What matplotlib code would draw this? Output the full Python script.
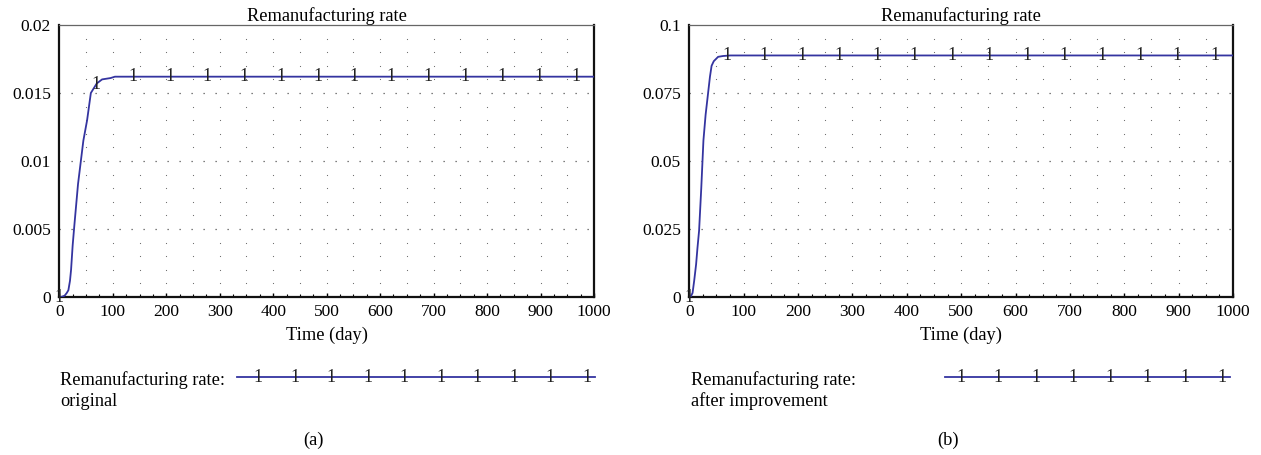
import numpy as np
import matplotlib
matplotlib.use("Agg")
import matplotlib.pyplot as plt

# ---- data ----
t_orig = [0, 5, 10, 14, 17, 20, 22, 25, 28, 35, 45, 52, 59, 70, 80, 88, 96, 104, 1000]
v_orig = [0, 0.00002, 0.0001, 0.0003, 0.0005, 0.0012, 0.002, 0.0038, 0.0052, 0.0083,
          0.0115, 0.013, 0.015, 0.0157, 0.0160, 0.01605, 0.0161, 0.0162, 0.0162]
t_impr = [0, 3, 6, 9, 12.5, 15, 18, 22, 26, 30, 34, 38, 41, 45, 53, 62, 75, 1000]
v_impr = [0, 0.0003, 0.0015, 0.006, 0.012, 0.018, 0.0244, 0.04, 0.0576, 0.067, 0.074,
          0.081, 0.085, 0.0867, 0.0883, 0.0886, 0.0888, 0.0888]
label_times = [0, 69, 138, 207, 276, 345, 414, 483, 552, 621, 690, 759, 828, 897, 966]
yticks_a = [0, 0.005, 0.01, 0.015, 0.02]
yticklabels_a = ["0", "0.005", "0.01", "0.015", "0.02"]
yticks_b = [0, 0.025, 0.05, 0.075, 0.1]
yticklabels_b = ["0", "0.025", "0.05", "0.075", "0.1"]
xticks = [0, 100, 200, 300, 400, 500, 600, 700, 800, 900, 1000]
title = "Remanufacturing rate"
xlabel = "Time (day)"
legend_a = ["Remanufacturing rate:", "original"]
legend_b = ["Remanufacturing rate:", "after improvement"]

plt.rcParams['font.family'] = ['Liberation Serif', 'DejaVu Serif']
W, H = 1261, 455
fig = plt.figure(figsize=(W / 100, H / 100), dpi=100)
LINE = '#3434a0'
FS = 12.5
FT = 13.2


def px(x0, y0, x1, y1):
    return [x0 / W, 1 - y1 / H, (x1 - x0) / W, (y1 - y0) / H]


def make_panel(rect, t, v, yticks, ylabs, ymax, n_leg, leg_text, leg_tx, leg_x0, leg_x1,
               leg_first, leg_last, tag, tag_x):
    ax = fig.add_axes(px(*rect))
    ax.set_xlim(0, 1000)
    ax.set_ylim(0, ymax)
    # dotted grid
    xs = np.arange(50, 1000, 50)
    step = ymax / 20
    ys = np.arange(1, 20) * step
    ys = [y for i, y in enumerate(ys, start=1) if i % 5 != 0]
    gx, gy = np.meshgrid(xs, ys)
    ax.scatter(gx.ravel(), gy.ravel(), s=0.7, color='#666666', linewidths=0, zorder=1)
    for y in yticks[1:-1]:
        ax.axhline(y, color='#555555', lw=0.9, ls=(0, (1, 8.6)), zorder=1)
    ax.plot(t, v, color=LINE, lw=1.3, zorder=3)
    for lt in label_times:
        ax.text(lt, np.interp(lt, t, v), "1", ha='center', va='center',
                fontsize=13, color='#222222', zorder=4)
    ax.set_xticks(xticks)
    ax.set_xticklabels([str(x) for x in xticks], fontsize=FS)
    ax.set_yticks(yticks)
    ax.set_yticklabels(ylabs, fontsize=FS)
    ax.set_xticks(np.arange(0, 1001, 25), minor=True)
    ax.tick_params(axis='x', which='major', direction='in', length=3, pad=5, width=1)
    ax.tick_params(axis='x', which='minor', direction='in', length=2, width=0.8)
    ax.tick_params(axis='y', which='major', direction='in', length=0, pad=6)
    for s in ['left', 'bottom', 'right']:
        ax.spines[s].set_linewidth(1.6)
        ax.spines[s].set_color('#111111')
    ax.spines['top'].set_linewidth(0.9)
    ax.spines['top'].set_color('#666666')
    ax.set_title(title, fontsize=FT, pad=3)
    ax.set_xlabel(xlabel, fontsize=FT, labelpad=5)
    # legend
    fig.text(leg_tx / W, 1 - 380 / H, leg_text[0], fontsize=FT, ha='left', va='center')
    fig.text(leg_tx / W, 1 - 401 / H, leg_text[1], fontsize=FT, ha='left', va='center')
    fig.add_artist(plt.Line2D([leg_x0 / W, leg_x1 / W], [1 - 377 / H, 1 - 377 / H],
                              color=LINE, lw=1.3))
    pos = np.linspace(leg_first, leg_last, n_leg)
    for p in pos:
        fig.text(p / W, 1 - 378 / H, "1", fontsize=13, ha='center', va='center',
                 color='#222222')
    fig.text(tag_x / W, 1 - 440 / H, tag, fontsize=FT, ha='center', va='center')
    return ax


make_panel((59.3, 25, 594, 297), t_orig, v_orig, yticks_a, yticklabels_a, 0.02, 10,
           legend_a, 60, 237, 595, 258, 587, "(a)", 313)
make_panel((689.3, 25, 1233, 297), t_impr, v_impr, yticks_b, yticklabels_b, 0.1, 8,
           legend_b, 691, 945, 1230, 961, 1222, "(b)", 948)

fig.savefig("out.png", dpi=100)
